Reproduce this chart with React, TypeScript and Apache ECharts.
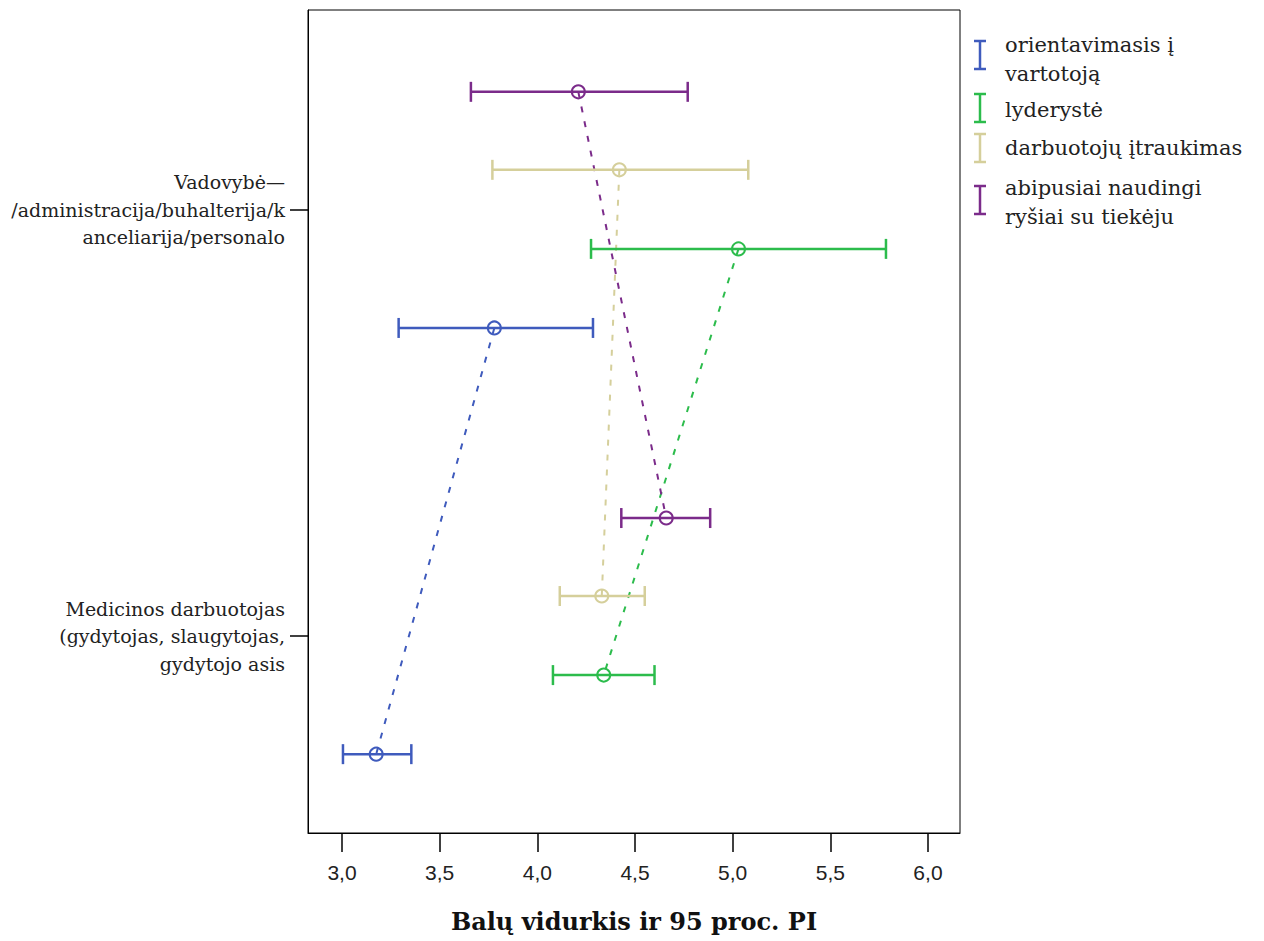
import React, { useEffect, useRef } from "react";
import * as echarts from "echarts";

const categories = [
  "Vadovybė—\n/administracija/buhalterija/k\nanceliarija/personalo",
  "Medicinos darbuotojas\n(gydytojas, slaugytojas,\ngydytojo asis",
];
const categoryPos = [0, 1];

const seriesNames = [
  "orientavimasis į vartotoją",
  "lyderystė",
  "darbuotojų įtraukimas",
  "abipusiai naudingi ryšiai su tiekėju",
];
const legendLabels = [
  "orientavimasis į\nvartotoją",
  "lyderystė",
  "darbuotojų įtraukimas",
  "abipusiai naudingi\nryšiai su tiekėju",
];
const colors = ["#3f5bbd", "#2cbc4c", "#d5cf9b", "#7b2b8a"];

// values per category [Vadovybė, Medicinos]
const orientLow = [3.29, 3.005];
const orientMean = [3.78, 3.175];
const orientHigh = [4.285, 3.355];

const lyderLow = [4.275, 4.08];
const lyderMean = [5.03, 4.34];
const lyderHigh = [5.785, 4.6];

const itraukLow = [3.77, 4.115];
const itraukMean = [4.42, 4.33];
const itraukHigh = [5.08, 4.55];

const tiekLow = [3.66, 4.43];
const tiekMean = [4.21, 4.66];
const tiekHigh = [4.77, 4.885];

const xTicks = [3.0, 3.5, 4.0, 4.5, 5.0, 5.5, 6.0];

const lows = [orientLow, lyderLow, itraukLow, tiekLow];
const means = [orientMean, lyderMean, itraukMean, tiekMean];
const highs = [orientHigh, lyderHigh, itraukHigh, tiekHigh];
// vertical offset of each group within a category band
const offsets = [0.277, 0.0915, -0.094, -0.277];

const SERIF = "'DejaVu Serif', 'Liberation Serif', serif";

function buildOption() {
  const series: any[] = [];
  seriesNames.forEach((name, s) => {
    const color = colors[s];
    // dashed connecting line
    series.push({
      name: name + " (linija)",
      type: "line",
      data: categoryPos.map((c, i) => [means[s][i], c + offsets[s]]),
      symbol: "none",
      lineStyle: { color, width: 2, type: [6, 9] },
      z: 1,
      silent: true,
    });
    series.push({
      name,
      type: "custom",
      z: 2,
      encode: { x: [0, 2, 3], y: 1 },
      data: categoryPos.map((c, i) => [lows[s][i], c + offsets[s], means[s][i], highs[s][i]]),
      renderItem: (params: any, api: any) => {
        const lo = api.value(0);
        const y = api.value(1);
        const m = api.value(2);
        const hi = api.value(3);
        const pLo = api.coord([lo, y]);
        const pHi = api.coord([hi, y]);
        const pM = api.coord([m, y]);
        const capH = 10;
        const st = { stroke: color, lineWidth: 2.5, fill: "none" };
        return {
          type: "group",
          children: [
            { type: "line", shape: { x1: pLo[0], y1: pLo[1], x2: pHi[0], y2: pHi[1] }, style: st },
            { type: "line", shape: { x1: pLo[0], y1: pLo[1] - capH, x2: pLo[0], y2: pLo[1] + capH }, style: st },
            { type: "line", shape: { x1: pHi[0], y1: pHi[1] - capH, x2: pHi[0], y2: pHi[1] + capH }, style: st },
            { type: "circle", shape: { cx: pM[0], cy: pM[1], r: 6.5 }, style: { stroke: color, lineWidth: 2, fill: "rgba(255,255,255,0)" } },
          ],
        };
      },
    });
  });

  // legend drawn as graphic
  const legendRows = [
    { iconY: 55, textY: 59 },
    { iconY: 108, textY: 110 },
    { iconY: 148, textY: 148 },
    { iconY: 200, textY: 202 },
  ];
  const graphic: any[] = [];
  legendLabels.forEach((lab, i) => {
    const cx = 980;
    const cy = legendRows[i].iconY;
    const h = 14;
    const w = 6;
    const st = { stroke: colors[i], lineWidth: 2.5 };
    graphic.push({ type: "line", shape: { x1: cx, y1: cy - h, x2: cx, y2: cy + h }, style: st });
    graphic.push({ type: "line", shape: { x1: cx - w, y1: cy - h, x2: cx + w, y2: cy - h }, style: st });
    graphic.push({ type: "line", shape: { x1: cx - w, y1: cy + h, x2: cx + w, y2: cy + h }, style: st });
    graphic.push({
      type: "text",
      x: 1005,
      y: legendRows[i].textY,
      style: {
        text: lab,
        font: `21px ${SERIF}`,
        fill: "#222",
        verticalAlign: "middle",
        lineHeight: 29,
      },
    });
  });

  return {
    animation: false,
    backgroundColor: "#fff",
    grid: {
      left: 308,
      top: 10,
      width: 652,
      height: 823,
      show: true,
      borderColor: "#000",
      borderWidth: 1,
      containLabel: false,
    },
    xAxis: {
      type: "value",
      min: 2.826,
      max: 6.164,
      splitLine: { show: false },
      axisLine: { show: true, onZero: false, lineStyle: { color: "#000", width: 1 } },
      axisTick: { show: true, length: 19, customValues: xTicks, lineStyle: { color: "#000", width: 1.5 } },
      axisLabel: {
        customValues: xTicks,
        margin: 29,
        color: "#222",
        fontSize: 21,
        fontFamily: "'Liberation Sans Narrow', 'Liberation Sans', Arial, sans-serif",
        formatter: (v: number) => v.toFixed(1).replace(".", ","),
      },
      name: "Balų vidurkis ir 95 proc. PI",
      nameLocation: "middle",
      nameGap: 76,
      nameTextStyle: { fontFamily: SERIF, fontWeight: "bold", fontSize: 24, color: "#111" },
    },
    yAxis: {
      type: "value",
      inverse: true,
      min: -0.469,
      max: 1.462,
      splitLine: { show: false },
      axisLine: { show: true, onZero: false, lineStyle: { color: "#000", width: 1 } },
      axisTick: { show: true, length: 18, customValues: categoryPos, lineStyle: { color: "#000", width: 1.5 } },
      axisLabel: {
        customValues: categoryPos,
        margin: 23,
        color: "#222",
        fontSize: 19,
        fontFamily: SERIF,
        lineHeight: 27.5,
        align: "right",
        formatter: (v: number) => categories[Math.round(v)] ?? "",
      },
    },
    graphic,
    series,
  };
}

export default function App() {
  const ref = useRef<HTMLDivElement>(null);
  useEffect(() => {
    if (!ref.current) return;
    const chart = echarts.init(ref.current, null, { renderer: "svg" });
    chart.setOption(buildOption() as any);
    return () => chart.dispose();
  }, []);
  return (
    <div
      ref={ref}
      style={{ position: "absolute", left: 0, top: 0, width: 1264, height: 941, background: "#fff" }}
    />
  );
}
